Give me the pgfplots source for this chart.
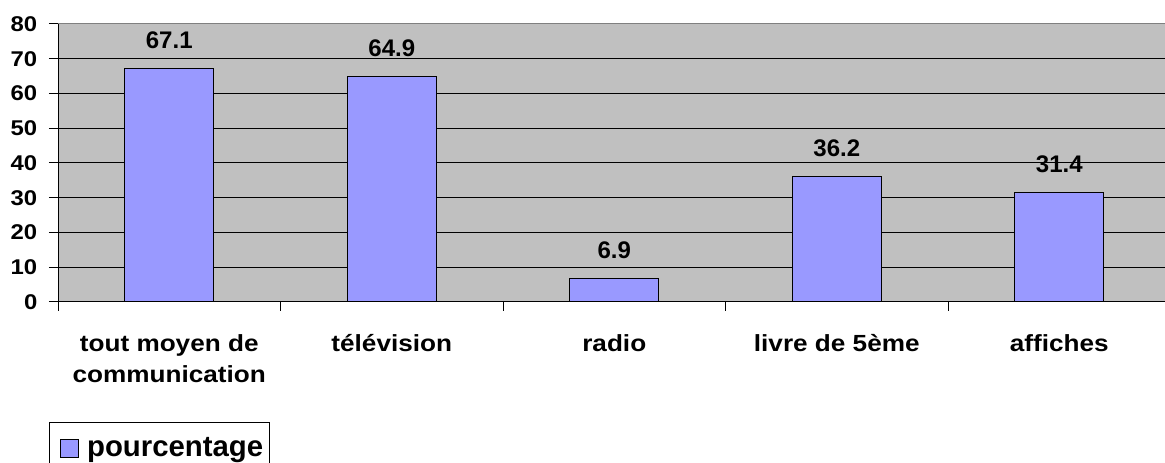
\documentclass[border=0pt]{standalone}
\usepackage{fontspec}
\setmainfont{Liberation Sans}
\newfontfamily\wide[FakeStretch=1.12]{Liberation Sans}
\usepackage{pgfplots}
\pgfplotsset{compat=1.18}
\definecolor{barblue}{RGB}{153,153,255}
\definecolor{bggray}{RGB}{192,192,192}
\definecolor{topgray}{RGB}{128,128,128}
\newcommand{\st}{\rule{0pt}{17pt}}
\begin{document}
\begin{tikzpicture}
\useasboundingbox (0,0) rectangle (873.75pt,347.25pt);
\begin{axis}[
  at={(43.5pt,120.75pt)}, anchor=south west,
  scale only axis, width=834.4pt, height=208.5pt,
  xmin=-0.5, xmax=4.5, ymin=0, ymax=80,
  /pgf/number format/assume math mode=true,
  axis x line*=bottom, axis y line*=left,
  axis line style={black, line width=0.75pt, -},
  axis background/.style={fill=bggray},
  ytick={0,10,...,80},
  ymajorgrids, grid style={black, line width=0.75pt},
  xtick={-0.5,0.5,1.5,2.5,3.5,4.5},
  x tick label as interval,
  xticklabels={{\st tout moyen de\\communication},{\st télévision},{\st radio},{\st livre de 5ème},{\st affiches}},
  xticklabel style={font=\wide\bfseries\fontsize{17.5}{23.25}\selectfont, align=center, anchor=north, inner ysep=0pt, yshift=-13.5pt},
  yticklabel style={font=\wide\bfseries\fontsize{16}{19}\selectfont, xshift=-5.25pt},
  tick align=outside, major tick length=6.75pt,
  tick style={black, line width=0.75pt},
  ybar, bar width=0.4,
  nodes near coords,
  nodes near coords style={font=\bfseries\fontsize{18}{20}\selectfont, anchor=base, inner sep=0pt, yshift=15pt, text=black},
  legend style={at={(rel axis cs:-0.0081,-0.4317)}, anchor=north west, draw=black, line width=0.75pt,
    font=\bfseries\fontsize{22}{26}\selectfont, inner xsep=3pt, inner ysep=9.5pt, fill=white},
  legend image code/.code={\draw[#1, line width=0.75pt] (5.25pt,-6.75pt) rectangle (18.75pt,6.75pt); \path[draw=none, fill=none] (0pt,0pt) -- (23.25pt,0pt);},
]
\addplot[fill=barblue, draw=black, line width=0.75pt] coordinates {(0,67.1) (1,64.9) (2,6.9) (3,36.2) (4,31.4)};
\addlegendentry{pourcentage}
\draw[topgray, line width=0.75pt] (rel axis cs:0,1) -- (rel axis cs:1,1);
\end{axis}
\end{tikzpicture}
\end{document}
